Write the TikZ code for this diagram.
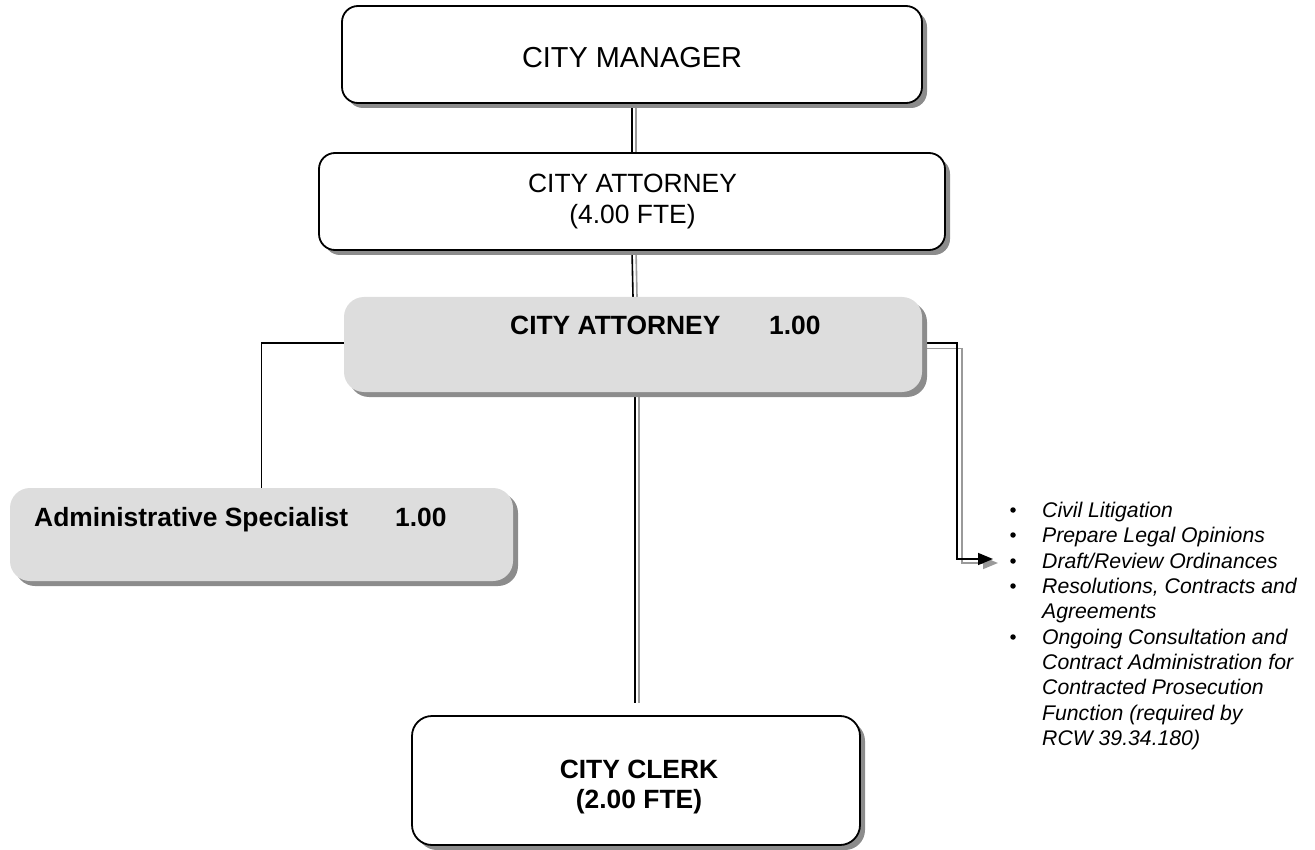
\documentclass[tikz,border=0pt]{standalone}
\usepackage{fontspec}
\setmainfont{Liberation Sans}
\usetikzlibrary{arrows.meta,shadows}
\definecolor{boxgray}{HTML}{DDDDDD}
\definecolor{shadowgray}{HTML}{8C8C8C}
\definecolor{lineshadow}{HTML}{9A9A9A}
\tikzset{
  boxshadow/.style={drop shadow={shadow xshift=5pt,shadow yshift=-5pt,fill=shadowgray,opacity=1}},
  whitebox/.style={draw=black,line width=1.8pt,fill=white,rounded corners=16pt,boxshadow,inner sep=0pt},
  graybox/.style={fill=boxgray,rounded corners=20pt,boxshadow,inner sep=0pt},
  conn/.style={draw=black,line width=1.6pt},
  connshadow/.style={draw=lineshadow,line width=1.6pt},
  txtreg/.style={inner sep=0pt,anchor=base,font=\fontsize{26.4}{30}\selectfont},
  txtbold/.style={inner sep=0pt,anchor=base west,font=\fontsize{26.4}{30}\selectfont\bfseries},
  bullettxt/.style={inner sep=0pt,anchor=base west,font=\fontsize{21.2}{25}\selectfont\itshape},
  bulletdot/.style={circle,fill=black,inner sep=0pt,minimum size=5.5pt},
}
\begin{document}
\begin{tikzpicture}[x=1pt,y=-1pt]
\useasboundingbox (0,0) rectangle (1315,850);
\path
  (632,54.5) coordinate (cmc)
  (632,201.5) coordinate (cac)
  (633,344.5) coordinate (gcac)
  (261.5,534.5) coordinate (admc)
  (636,780.5) coordinate (clkc);
% anchor nodes for connectors
\node[minimum width=580pt,minimum height=97pt,inner sep=0pt] (cm) at (cmc) {};
\node[minimum width=626pt,minimum height=97pt,inner sep=0pt] (ca) at (cac) {};
\node[minimum width=578pt,minimum height=95pt,inner sep=0pt] (gca) at (gcac) {};
\node[minimum width=503pt,minimum height=93pt,inner sep=0pt] (adm) at (admc) {};
\node[minimum width=448pt,minimum height=129pt,inner sep=0pt] (clk) at (clkc) {};
\coordinate (arr) at (993,559);
% shadow lines
\begin{scope}[transform canvas={shift={(4,0)}}]
  \draw[connshadow] (cm.south) -- (ca.north);
  \draw[connshadow] (ca.south) -- (gca.north);
  \draw[connshadow] ([xshift=2pt]gca.south) -- ([xshift=2pt,yshift=13pt]gca.south |- clk.north);
\end{scope}
\begin{scope}[transform canvas={shift={(5,4)}}]
  \draw[connshadow,-{Triangle[length=15pt,width=12pt]}] (gca.east) -- ++(35,0) |- (arr);
\end{scope}
% black lines
\draw[conn] (cm.south) -- (ca.north);
\draw[conn] (ca.south) -- (gca.north);
\draw[conn] ([xshift=2pt]gca.south) -- ([xshift=2pt,yshift=13pt]gca.south |- clk.north);
\draw[conn] ([yshift=1.5pt]gca.west) -| (adm.north);
\draw[conn,-{Triangle[length=15pt,width=12pt]}] ([yshift=1.5pt]gca.east) -- ++(35,0) |- (arr);
% boxes drawn
\node[whitebox,minimum width=580pt,minimum height=97pt] (cmbox) at (cmc) {};
\node[whitebox,minimum width=626pt,minimum height=97pt] (cabox) at (cac) {};
\node[graybox,minimum width=578pt,minimum height=95pt] (gcabox) at (gcac) {};
\node[graybox,minimum width=503pt,minimum height=93pt] (admbox) at (admc) {};
\node[whitebox,minimum width=448pt,minimum height=129pt,rounded corners=20pt] (clkbox) at (clkc) {};
% texts
\node[txtreg,font=\fontsize{28.9}{34}\selectfont] (cmt) at (632,68) {CITY MANAGER};
\node[txtreg] (cat1) at (632.5,193) {CITY ATTORNEY};
\node[txtreg] (cat2) at (632.5,224) {(4.00 FTE)};
\node[txtbold] (gcat1) at (510,335) {CITY ATTORNEY};
\node[txtbold] (gcat2) at (769,335) {1.00};
\node[txtbold] (admt1) at (34,526) {Administrative Specialist};
\node[txtbold] (admt2) at (395,526) {1.00};
\node[txtreg,font=\fontsize{26.4}{30}\selectfont\bfseries] (clkt1) at (639,778) {CITY CLERK};
\node[txtreg,font=\fontsize{26.4}{30}\selectfont\bfseries] (clkt2) at (639,808) {(2.00 FTE)};
% bullets
\foreach \yy/\tx/\bul [count=\i] in {
  517/Civil Litigation/1,
  542/Prepare Legal Opinions/1,
  568/Draft\slash Review Ordinances/1,
  593/{Resolutions, Contracts and}/1,
  618/Agreements/0,
  644/Ongoing Consultation and/1,
  669/Contract Administration for/0,
  694/Contracted Prosecution/0,
  720/Function (required by/0,
  745/RCW 39.34.180)/0}{
  \node[bullettxt] (bt\i) at (1042,\yy) {\tx};
  \ifnum\bul=1 \node[bulletdot] (bd\i) at (1013,\yy-7) {};\fi
}
\end{tikzpicture}
\end{document}
